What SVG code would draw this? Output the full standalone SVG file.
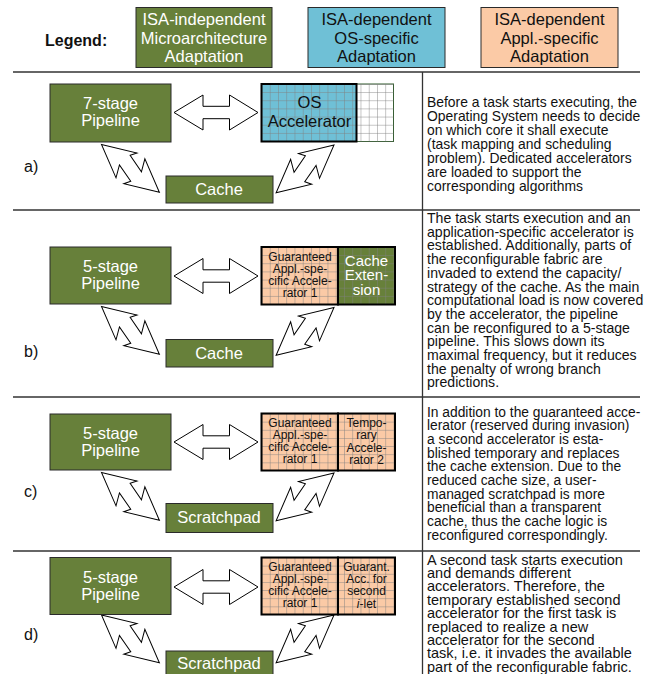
<svg xmlns="http://www.w3.org/2000/svg" width="648" height="674" viewBox="0 0 648 674">
<style>
text{font-family:"Liberation Sans",Arial,sans-serif}
.box{stroke:#2a2a2a;stroke-width:1}
.green{fill:#67803a}
.blue{fill:#6fc0d6}
.orange{fill:#fbcaa6}
.wt{fill:#fff;font-size:16.5px;text-anchor:middle}
.bt{fill:#111;font-size:16.5px;text-anchor:middle}
.small{fill:#111;font-size:12px;text-anchor:middle}
.lbl{fill:#111;font-size:16px}
.desc{fill:#111}
.sep{stroke:#333;stroke-width:1.3}
.arr{fill:#fff;stroke:#000;stroke-width:1;stroke-linejoin:miter}
.thick{fill:none;stroke:#000;stroke-width:2}
</style>
<defs>
<pattern id="grid" patternUnits="userSpaceOnUse" width="8.25" height="8.15">
<path d="M0 0H8.25M0 0V8.15" stroke="#7f7f7f" stroke-width="0.9" fill="none"/>
</pattern>
<path id="harrow" d="M174 0L203 -17.5V-6.2H229.5V-17.5L258 0L229.5 17.5V6.2H203V17.5Z"/>
<path id="bolt" d="M0 0L32.85 16L29 9.8L48.2 4.3L42.6 16.5L75 0L42.15 -16L46 -9.8L26.8 -4.3L32.4 -16.5Z"/>
</defs>
<rect width="648" height="674" fill="#fff"/>

<!-- Legend -->
<g id="legend">
<text x="45" y="46" style="font-size:16px;font-weight:bold" fill="#111">Legend:</text>
<g id="legend-micro">
<rect x="136" y="7.5" width="136" height="60" class="box green"/>
<text class="wt"><tspan x="204" y="25">ISA-independent</tspan><tspan x="204" y="43.5">Microarchitecture</tspan><tspan x="204" y="62">Adaptation</tspan></text>
</g>
<g id="legend-os">
<rect x="308" y="7.5" width="137" height="60" class="box blue"/>
<text class="bt"><tspan x="376.5" y="25">ISA-dependent</tspan><tspan x="376.5" y="43.5">OS-specific</tspan><tspan x="376.5" y="62">Adaptation</tspan></text>
</g>
<g id="legend-appl">
<rect x="481" y="7.5" width="137" height="60" class="box orange"/>
<text class="bt"><tspan x="549.5" y="25">ISA-dependent</tspan><tspan x="549.5" y="43.5">Appl.-specific</tspan><tspan x="549.5" y="62">Adaptation</tspan></text>
</g>
</g>

<!-- separators -->
<g id="separators">
<line x1="13" y1="72" x2="640" y2="72" class="sep"/>
<line x1="13" y1="210" x2="640" y2="210" class="sep"/>
<line x1="13" y1="397" x2="640" y2="397" class="sep"/>
<line x1="13" y1="551" x2="640" y2="551" class="sep"/>
<line x1="422.5" y1="72" x2="422.5" y2="674" class="sep"/>
</g>

<!-- connectors -->
<g id="connectors" class="arr">
<use href="#harrow" transform="translate(0,112.5)"/>
<use href="#bolt" transform="translate(101.5,144.5) rotate(39.5) scale(1,-1)"/>
<use href="#bolt" transform="translate(334,145) rotate(140.5)"/>
<use href="#harrow" transform="translate(0,276)"/>
<use href="#bolt" transform="translate(101.5,306.5) rotate(39.5) scale(1,-1)"/>
<use href="#bolt" transform="translate(334,307.5) rotate(140.5)"/>
<use href="#harrow" transform="translate(0,442)"/>
<use href="#bolt" transform="translate(101.5,472.5) rotate(39.5) scale(1,-1)"/>
<use href="#bolt" transform="translate(334,473) rotate(140.5)"/>
<use href="#harrow" transform="translate(0,587)"/>
<use href="#bolt" transform="translate(101.5,615) rotate(39.5) scale(1,-1)"/>
<use href="#bolt" transform="translate(334,615) rotate(140.5)"/>
</g>

<!-- Panel a -->
<g id="panel-a">
<text x="24" y="172" class="lbl">a)</text>
<g id="a-pipeline">
<rect x="50" y="84" width="121" height="58" class="box green"/>
<text class="wt"><tspan x="110.5" y="109">7-stage</tspan><tspan x="110.5" y="126">Pipeline</tspan></text>
</g>
<g id="a-os-accelerator" transform="translate(261.5,84)">
<rect width="132" height="57.5" fill="#fff" stroke="#2f5a2a" stroke-width="1"/>
<rect width="95" height="57.5" class="blue"/>
<rect width="132" height="57.5" fill="url(#grid)"/>
<rect width="95" height="57.5" class="thick"/>
<text class="bt"><tspan x="48" y="24">OS</tspan><tspan x="48" y="43">Accelerator</tspan></text>
</g>
<g id="a-cache">
<rect x="166" y="176" width="107" height="27" class="box green"/>
<text x="219" y="194.5" class="wt">Cache</text>
</g>
<text class="desc" style="font-size:13.9px"><tspan x="427" y="106.8">Before a task starts executing, the</tspan><tspan x="427" y="120.9">Operating System needs to decide</tspan><tspan x="427" y="135">on which core it shall execute</tspan><tspan x="427" y="149.1">(task mapping and scheduling</tspan><tspan x="427" y="163.2">problem). Dedicated accelerators</tspan><tspan x="427" y="177.3">are loaded to support the</tspan><tspan x="427" y="191.4">corresponding algorithms</tspan></text>
</g>

<!-- Panel b -->
<g id="panel-b">
<text x="24" y="357" class="lbl">b)</text>
<g id="b-pipeline">
<rect x="50" y="247" width="121" height="57" class="box green"/>
<text class="wt"><tspan x="110.5" y="272">5-stage</tspan><tspan x="110.5" y="289">Pipeline</tspan></text>
</g>
<g id="b-accelerators" transform="translate(261.5,247)">
<rect width="76.5" height="57.5" class="orange"/>
<rect x="76.5" width="57" height="57.5" class="green"/>
<rect width="133.5" height="57.5" fill="url(#grid)"/>
<rect width="76.5" height="57.5" class="thick"/>
<rect x="76.5" width="57" height="57.5" class="thick"/>
<text class="small"><tspan x="38.5" y="14">Guaranteed</tspan><tspan x="38.5" y="26">Appl.-spe-</tspan><tspan x="38.5" y="38">cific Accele-</tspan><tspan x="38.5" y="50">rator 1</tspan></text>
<text class="wt" style="font-size:15px"><tspan x="105" y="18.5">Cache</tspan><tspan x="105" y="33">Exten-</tspan><tspan x="105" y="47.5">sion</tspan></text>
</g>
<g id="b-cache">
<rect x="166" y="339.5" width="107" height="27.5" class="box green"/>
<text x="219" y="358.5" class="wt">Cache</text>
</g>
<text class="desc" style="font-size:14.1px"><tspan x="427" y="223">The task starts execution and an</tspan><tspan x="427" y="236.7">application-specific accelerator is</tspan><tspan x="427" y="250.4">established. Additionally, parts of</tspan><tspan x="427" y="264.1">the reconfigurable fabric are</tspan><tspan x="427" y="277.8">invaded to extend the capacity/</tspan><tspan x="427" y="291.5">strategy of the cache. As the main</tspan><tspan x="427" y="305.2">computational load is now covered</tspan><tspan x="427" y="318.9">by the accelerator, the pipeline</tspan><tspan x="427" y="332.6">can be reconfigured to a 5-stage</tspan><tspan x="427" y="346.3">pipeline. This slows down its</tspan><tspan x="427" y="360">maximal frequency, but it reduces</tspan><tspan x="427" y="373.7">the penalty of wrong branch</tspan><tspan x="427" y="387.4">predictions.</tspan></text>
</g>

<!-- Panel c -->
<g id="panel-c">
<text x="24" y="497" class="lbl">c)</text>
<g id="c-pipeline">
<rect x="50" y="414" width="121" height="56" class="box green"/>
<text class="wt"><tspan x="110.5" y="439">5-stage</tspan><tspan x="110.5" y="456">Pipeline</tspan></text>
</g>
<g id="c-accelerators" transform="translate(261.5,413.5)">
<rect width="133.5" height="57" class="orange"/>
<rect width="133.5" height="57" fill="url(#grid)"/>
<rect width="76.5" height="57" class="thick"/>
<rect x="76.5" width="57" height="57" class="thick"/>
<text class="small"><tspan x="38.5" y="13.5">Guaranteed</tspan><tspan x="38.5" y="25.5">Appl.-spe-</tspan><tspan x="38.5" y="37.5">cific Accele-</tspan><tspan x="38.5" y="49.5">rator 1</tspan></text>
<text class="small"><tspan x="105" y="13.5">Tempo-</tspan><tspan x="105" y="25.8">rary</tspan><tspan x="105" y="38.1">Accele-</tspan><tspan x="105" y="50.4">rator 2</tspan></text>
</g>
<g id="c-scratchpad">
<rect x="166" y="503.5" width="107" height="29" class="box green"/>
<text x="219" y="523" class="wt">Scratchpad</text>
</g>
<text class="desc" style="font-size:13.8px"><tspan x="427" y="416.5">In addition to the guaranteed acce-</tspan><tspan x="427" y="430.2">lerator (reserved during invasion)</tspan><tspan x="427" y="443.9">a second accelerator is esta-</tspan><tspan x="427" y="457.6">blished temporary and replaces</tspan><tspan x="427" y="471.3">the cache extension. Due to the</tspan><tspan x="427" y="485">reduced cache size, a user-</tspan><tspan x="427" y="498.7">managed scratchpad is more</tspan><tspan x="427" y="512.4">beneficial than a transparent</tspan><tspan x="427" y="526.1">cache, thus the cache logic is</tspan><tspan x="427" y="539.8">reconfigured correspondingly.</tspan></text>
</g>

<!-- Panel d -->
<g id="panel-d">
<text x="24" y="639.5" class="lbl">d)</text>
<g id="d-pipeline">
<rect x="50" y="557.5" width="121" height="57" class="box green"/>
<text class="wt"><tspan x="110.5" y="582.5">5-stage</tspan><tspan x="110.5" y="599.5">Pipeline</tspan></text>
</g>
<g id="d-accelerators" transform="translate(261.5,557.5)">
<rect width="133.5" height="57" class="orange"/>
<rect width="133.5" height="57" fill="url(#grid)"/>
<rect width="76.5" height="57" class="thick"/>
<rect x="76.5" width="57" height="57" class="thick"/>
<text class="small"><tspan x="38.5" y="13.5">Guaranteed</tspan><tspan x="38.5" y="25.5">Appl.-spe-</tspan><tspan x="38.5" y="37.5">cific Accele-</tspan><tspan x="38.5" y="49.5">rator 1</tspan></text>
<text class="small"><tspan x="105" y="13">Guarant.</tspan><tspan x="105" y="25.3">Acc. for</tspan><tspan x="105" y="37.6">second</tspan><tspan x="105" y="50"><tspan font-style="italic">i</tspan>-let</tspan></text>
</g>
<g id="d-scratchpad">
<rect x="166" y="651" width="107" height="30" class="box green"/>
<text x="219" y="669" class="wt">Scratchpad</text>
</g>
<text class="desc" style="font-size:14.5px"><tspan x="427" y="564.5">A second task starts execution</tspan><tspan x="427" y="577.9">and demands different</tspan><tspan x="427" y="591.3">accelerators. Therefore, the</tspan><tspan x="427" y="604.7">temporary established second</tspan><tspan x="427" y="618.1">accelerator for the first task is</tspan><tspan x="427" y="631.5">replaced to realize a new</tspan><tspan x="427" y="644.9">accelerator for the second</tspan><tspan x="427" y="658.3">task, i.e. it invades the available</tspan><tspan x="427" y="671.7">part of the reconfigurable fabric.</tspan></text>
</g>
</svg>
